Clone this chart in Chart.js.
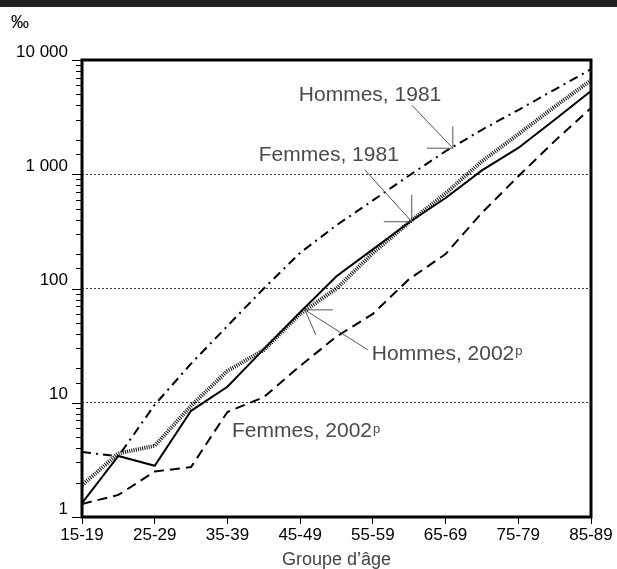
<!DOCTYPE html>
<html lang="fr">
<head>
<meta charset="UTF-8">
<title>Taux de mortalité par groupe d'âge</title>
<script src="https://cdn.jsdelivr.net/npm/chart.js"></script>
<style>
    body { margin: 0; background: #fff; overflow: hidden; }
    .chart-box { position: relative; width: 617px; height: 569px; }
</style>
</head>
<body>
<div class="chart-box"><canvas id="mortaliteChart"></canvas></div>
<script>
// Groupes d'âge
const groupesAge = ['15-19', '20-24', '25-29', '30-34', '35-39', '40-44', '45-49', '50-54',
    '55-59', '60-64', '65-69', '70-74', '75-79', '80-84', '85-89'];

// Taux (pour mille)
const hommes1981 = [3.7, 3.4, 9.6, 22, 47, 100, 205, 358, 590, 976, 1590, 2450, 3650, 5500, 8300];
const femmes1981 = [1.9, 3.6, 4.2, 9.4, 19, 29, 60, 100, 204, 380, 680, 1300, 2240, 3900, 6650];
const hommes2002 = [1.32, 3.42, 2.81, 8.5, 13.8, 29.5, 62, 128, 220, 380, 620, 1080, 1700, 3000, 5350];
const femmes2002 = [1.3, 1.56, 2.5, 2.74, 8.3, 11.2, 21, 38, 60, 121, 200, 460, 960, 1950, 3800];

// Bornes de l'axe vertical
const yMin = 1;
const yMax = 10000;

// Annotations : point visé (indice de groupe, valeur) et texte
const annotations = [
    { text: 'Hommes, 1981', sup: '', at: [10.2, 1690], textOff: [-154, -53], line: [-41, -43], heads: [[-26, 0], [0, -22]] },
    { text: 'Femmes, 1981', sup: '', at: [9.07, 384], textOff: [-153, -67], line: [-47, -52], heads: [[-28, 0], [0, -27]] },
    { text: 'Hommes, 2002', sup: 'p', at: [6.13, 65], textOff: [67, 44], line: [63, 40], heads: [[28, 0], [11, 25]] },
    { text: 'Femmes, 2002', sup: 'p', at: [4.125, 5.58], textOff: [0, 0], line: null, heads: [] }
];

const isPow10 = v => Math.abs(Math.log10(v) - Math.round(Math.log10(v))) < 1e-9;

const decorPlugin = {
    id: 'decor',
    afterDraw(chart) {
        const { ctx, chartArea: a, scales: { x, y } } = chart;
        ctx.save();
        // bandeau du haut
        ctx.fillStyle = '#231f20';
        ctx.fillRect(0, 0, chart.width, 7);
        // unité
        ctx.fillStyle = '#000';
        ctx.font = '18px "Liberation Sans", Arial, sans-serif';
        ctx.textBaseline = 'middle';
        ctx.fillText('‰', 11, 23);

        // graduations de l'axe vertical
        ctx.strokeStyle = '#000';
        ctx.lineWidth = 1;
        y.ticks.forEach(t => {
            const py = Math.round(y.getPixelForValue(t.value)) + 0.5;
            const len = isPow10(t.value) ? 10 : 6;
            ctx.beginPath();
            ctx.moveTo(a.left - len, py);
            ctx.lineTo(a.left, py);
            ctx.stroke();
        });

        // cadre
        ctx.lineWidth = 3;
        ctx.strokeRect(a.left, a.top, a.right - a.left, a.bottom - a.top);

        // annotations
        ctx.strokeStyle = '#555';
        ctx.fillStyle = '#4a4a4a';
        ctx.lineWidth = 1;
        annotations.forEach(an => {
            const px = x.getPixelForValue(an.at[0]);
            const py = y.getPixelForValue(an.at[1]);
            if (an.line) {
                ctx.beginPath();
                ctx.moveTo(px, py);
                ctx.lineTo(px + an.line[0], py + an.line[1]);
                an.heads.forEach(h => {
                    ctx.moveTo(px, py);
                    ctx.lineTo(px + h[0], py + h[1]);
                });
                ctx.stroke();
            }
            const tx = px + an.textOff[0];
            const ty = py + an.textOff[1];
            ctx.font = '21px "Liberation Sans", Arial, sans-serif';
            ctx.textBaseline = 'middle';
            ctx.textAlign = 'left';
            ctx.fillText(an.text, tx, ty);
            if (an.sup) {
                const w = ctx.measureText(an.text).width;
                ctx.font = '13px "Liberation Sans", Arial, sans-serif';
                ctx.textBaseline = 'alphabetic';
                ctx.fillText(an.sup, tx + w + 1, ty + 1);
            }
        });
        ctx.restore();
    }
};

const lineSet = (label, data, dash, width, color) => ({
    label, data,
    borderColor: color,
    borderWidth: width,
    borderDash: dash,
    pointRadius: 0,
    tension: 0,
    fill: false
});

new Chart(document.getElementById('mortaliteChart'), {
    type: 'line',
    data: {
        labels: groupesAge,
        datasets: [
            lineSet('Hommes, 1981', hommes1981, [9, 5, 2, 5], 2, '#000'),
            lineSet('Femmes, 1981', femmes1981, [1, 1.2], 4, '#111'),
            lineSet('Hommes, 2002p', hommes2002, [], 2, '#000'),
            lineSet('Femmes, 2002p', femmes2002, [10, 6], 2, '#000')
        ]
    },
    options: {
        responsive: true,
        maintainAspectRatio: false,
        animation: false,
        layout: { padding: { top: 60, right: 26, left: 0, bottom: 0 } },
        plugins: { legend: { display: false }, tooltip: { enabled: false } },
        scales: {
            x: {
                type: 'category',
                offset: false,
                afterFit: s => { s.height = 52; },
                border: { display: false },
                grid: {
                    drawOnChartArea: false,
                    drawTicks: true,
                    tickLength: 7,
                    tickWidth: 1,
                    tickColor: c => (c.index % 2 === 0 ? '#000' : 'transparent')
                },
                ticks: {
                    autoSkip: false,
                    maxRotation: 0,
                    padding: 1,
                    color: '#000',
                    font: { family: '"Liberation Sans", Arial, sans-serif', size: 17 },
                    callback: (v, i) => (i % 2 === 0 ? groupesAge[i] : '')
                },
                title: {
                    display: true,
                    text: 'Groupe d\u2019âge',
                    color: '#444',
                    padding: 0,
                    font: { family: '"Liberation Sans", Arial, sans-serif', size: 18, lineHeight: 1 }
                }
            },
            y: {
                type: 'logarithmic',
                min: yMin,
                max: yMax,
                afterFit: s => { s.width = 82; },
                border: { display: false, dash: [2, 2] },
                grid: {
                    drawTicks: false,
                    lineWidth: 1,
                    color: c => (c.tick && isPow10(c.tick.value) ? '#333' : 'transparent')
                },
                ticks: {
                    autoSkip: false,
                    padding: 14,
                    labelOffset: -8,
                    color: '#000',
                    font: { family: '"Liberation Sans", Arial, sans-serif', size: 17 },
                    callback: v => (isPow10(v) ? Math.round(v).toString().replace(/\B(?=(\d{3})+(?!\d))/g, ' ') : '')
                }
            }
        }
    },
    plugins: [decorPlugin]
});
</script>
</body>
</html>
